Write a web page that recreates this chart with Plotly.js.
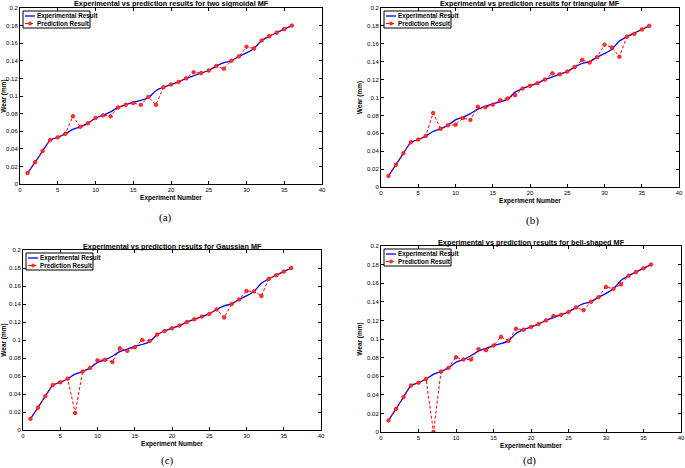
<!DOCTYPE html>
<html>
<head>
<meta charset="utf-8">
<script src="https://cdn.plot.ly/plotly-3.0.1.min.js"></script>
<style>html,body{margin:0;padding:0;background:#fff}#chart{width:685px;height:468px}</style>
</head>
<body>
<div id="chart"></div>
<script>
const experimentNumber = Array.from({length: 36}, (_, i) => i + 1);
const experimentalWear = [0.0124,0.0248,0.0376,0.050,0.053,0.057,0.062,0.065,0.069,0.075,0.078,0.082,0.087,0.090,0.093,0.095,0.098,0.106,0.110,0.113,0.116,0.120,0.123,0.126,0.129,0.134,0.138,0.140,0.145,0.149,0.154,0.163,0.168,0.172,0.176,0.180];
const predSigmoidal = [0.0124,0.0248,0.0376,0.050,0.053,0.057,0.077,0.065,0.069,0.075,0.078,0.077,0.087,0.090,0.092,0.090,0.099,0.090,0.110,0.113,0.116,0.120,0.127,0.126,0.129,0.134,0.131,0.140,0.145,0.156,0.154,0.163,0.168,0.172,0.176,0.180];
const predTriangular = [0.0124,0.0248,0.0376,0.050,0.053,0.057,0.0826,0.065,0.069,0.0696,0.077,0.075,0.0896,0.089,0.092,0.097,0.099,0.1026,0.110,0.113,0.116,0.120,0.127,0.126,0.129,0.134,0.142,0.139,0.145,0.159,0.156,0.1456,0.168,0.171,0.176,0.180];
const predGaussian = [0.0124,0.0248,0.0376,0.050,0.053,0.057,0.019,0.065,0.069,0.0774,0.078,0.0756,0.0907,0.088,0.092,0.100,0.099,0.106,0.110,0.113,0.116,0.120,0.123,0.126,0.129,0.134,0.125,0.140,0.145,0.1544,0.154,0.149,0.168,0.172,0.176,0.180];
const predBell = [0.0124,0.0248,0.0376,0.050,0.053,0.057,0.0,0.065,0.069,0.0804,0.078,0.078,0.089,0.088,0.093,0.1023,0.098,0.111,0.110,0.113,0.116,0.120,0.1246,0.126,0.129,0.134,0.131,0.140,0.145,0.156,0.154,0.1587,0.168,0.172,0.176,0.180];
const panelTitles = ["Experimental vs prediction results for two sigmoidal MF","Experimental vs prediction results for triangular MF","Experimental vs prediction results for Gaussian MF","Experimental vs prediction results for bell-shaped MF"];
const panelLabels = ["(a)","(b)","(c)","(d)"];
const seriesNames = ["Experimental Result", "Prediction Result"];
const preds = [predSigmoidal, predTriangular, predGaussian, predBell];

const W = 685, H = 468;
// plot area boxes in pixels [left, right, top, bottom]
const boxes = [[20,322,8,184],[381,679,8,187],[23,321,250,430],[381,681,246,432]];
const labelPos = [[165,217],[532,220],[167,460],[529,460]];
const FONT = "Liberation Sans, Arial, sans-serif";
const px = v => v / W, py = v => 1 - v / H;

const data = [];
const layout = {
  width: W, height: H, margin: {l:0,r:0,t:0,b:0},
  paper_bgcolor: "#fff", plot_bgcolor: "#fff",
  showlegend: false, annotations: [], shapes: [],
  font: {family: FONT, color: "#000", size: 6}
};

boxes.forEach((b, i) => {
  const n = i === 0 ? "" : String(i + 1);
  const xa = "xaxis" + n, ya = "yaxis" + n;
  const xd = [px(b[0]), px(b[1])], yd = [py(b[3]), py(b[2])];
  const axCommon = {showline: true, linecolor: "#000", linewidth: 1, mirror: "ticks", ticks: "inside", ticklen: 3, tickcolor: "#000", showgrid: false, zeroline: false, tickfont: {size: 6, family: FONT}};
  layout[xa] = Object.assign({}, axCommon, {domain: xd, range: [0, 40], dtick: 5, anchor: "y" + n,
    title: {text: "<b>Experiment Number</b>", font: {size: 6.5, family: FONT}, standoff: 3}});
  layout[ya] = Object.assign({}, axCommon, {domain: yd, range: [0, 0.2], dtick: 0.02, anchor: "x" + n,
    title: {text: "<b>Wear (mm)</b>", font: {size: 6.5, family: FONT}, standoff: 3}});
  data.push({x: experimentNumber, y: experimentalWear, type: "scatter", mode: "lines", name: seriesNames[0],
    line: {color: "#0000ff", width: 1.3, shape: "spline", smoothing: 0.5}, xaxis: "x" + n, yaxis: "y" + n});
  data.push({x: experimentNumber, y: preds[i], type: "scatter", mode: "lines+markers", name: seriesNames[1],
    line: {color: "#ff0000", width: 1, dash: "3px,2px"}, marker: {symbol: "circle", size: 3.5, color: "#ff3c3c", line: {color: "#ff0000", width: 0.8}},
    xaxis: "x" + n, yaxis: "y" + n});
  layout.annotations.push({text: "<b>" + panelTitles[i] + "</b>", x: (xd[0] + xd[1]) / 2, y: py(b[2] - 4), xref: "paper", yref: "paper",
    xanchor: "center", yanchor: "middle", showarrow: false, font: {size: 7.3, family: FONT}, borderpad: 0});
  layout.annotations.push({text: panelLabels[i], x: px(labelPos[i][0]), y: py(labelPos[i][1]), xref: "paper", yref: "paper",
    xanchor: "center", yanchor: "middle", showarrow: false, font: {size: 11, family: "Liberation Serif, Times New Roman, serif"}});
  // legend (drawn manually to match compact MATLAB legend)
  const L = b[0] + 3, T = b[2] + 3, R = b[0] + 70, B = b[2] + 20;
  layout.shapes.push({type: "rect", xref: "paper", yref: "paper", x0: px(L), x1: px(R), y0: py(B), y1: py(T), line: {color: "#000", width: 1}, fillcolor: "#fff", layer: "above"});
  const r1 = T + 5, r2 = T + 12.5;
  layout.shapes.push({type: "line", xref: "paper", yref: "paper", x0: px(L + 2), x1: px(L + 12), y0: py(r1), y1: py(r1), line: {color: "#0000ff", width: 1.3}, layer: "above"});
  layout.shapes.push({type: "line", xref: "paper", yref: "paper", x0: px(L + 2), x1: px(L + 12), y0: py(r2), y1: py(r2), line: {color: "#ff0000", width: 1, dash: "3px,2px"}, layer: "above"});
  layout.shapes.push({type: "circle", xref: "paper", yref: "paper", x0: px(L + 5.5), x1: px(L + 8.5), y0: py(r2 + 1.5), y1: py(r2 - 1.5), line: {color: "#ff0000", width: 0.8}, fillcolor: "#ff3c3c", layer: "above"});
  seriesNames.forEach((s, k) => {
    layout.annotations.push({text: "<b>" + s + "</b>", x: px(L + 13), y: py(k === 0 ? r1 : r2), xref: "paper", yref: "paper",
      xanchor: "left", yanchor: "middle", showarrow: false, font: {size: 6.3, family: FONT}, borderpad: 0});
  });
});

Plotly.newPlot("chart", data, layout, {staticPlot: true, displayModeBar: false});
</script>
</body>
</html>
